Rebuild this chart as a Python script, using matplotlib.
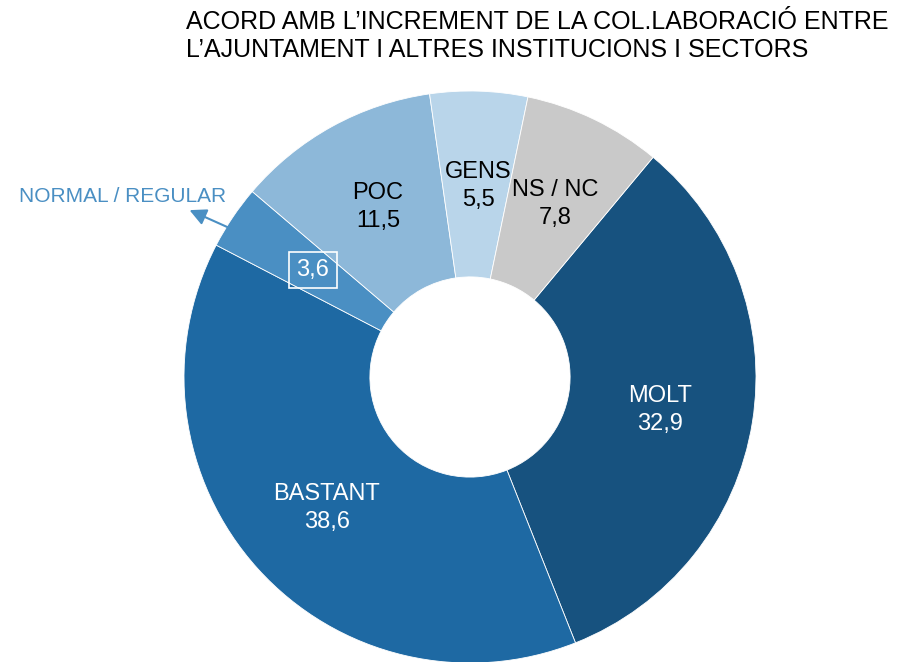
import matplotlib.pyplot as plt

# data (clockwise, starting at MOLT)
labels = ['MOLT', 'BASTANT', 'NORMAL / REGULAR', 'POC', 'GENS', 'NS / NC']
values = [32.9, 38.6, 3.6, 11.5, 5.5, 7.8]
colors = ['#17527F', '#1E69A3', '#4A8FC3', '#8DB8D9', '#B9D5EA', '#C9C9C9']
text_colors = ['white', 'white', 'white', 'black', 'black', 'black']

title = "ACORD AMB L\u2019INCREMENT DE LA COL.LABORACI\u00d3 ENTRE\nL\u2019AJUNTAMENT I ALTRES INSTITUCIONS I SECTORS"

W, H = 919, 662
cx, cy, R = 470, 377, 286

fig = plt.figure(figsize=(W / 100, H / 100), dpi=100)
ax = fig.add_axes([0, 0, 1, 1])

wedges, _ = ax.pie(values, colors=colors, startangle=50.2, counterclock=False,
                   radius=1, wedgeprops=dict(width=0.65, edgecolor='white', linewidth=0.6))

# pie resets the limits, so set them afterwards
ax.set_xlim(-cx / R, (W - cx) / R)
ax.set_ylim(-(H - cy) / R, cy / R)
ax.set_aspect('equal')
ax.axis('off')


def px(x, y):
    return (x - cx) / R, (cy - y) / R


# slice labels (pixel positions)
label_pos = [(660, 410), (327, 508), None, (378, 207), (478, 186), (555, 204)]
for lab, val, pos, tc in zip(labels, values, label_pos, text_colors):
    if pos is None:
        continue
    ax.text(*px(*pos), f"{lab}\n{str(val).replace('.', ',')}", ha='center', va='center',
            fontsize=17, color=tc, family='Liberation Sans', linespacing=1.3)

# small slice: value in a box + callout label
ax.text(*px(313, 270), '3,6', ha='center', va='center', fontsize=17, color='white',
        family='Liberation Sans',
        bbox=dict(boxstyle='square,pad=0.3', fc='none', ec='white', lw=1.2))
ax.annotate('', xy=px(187, 209), xytext=px(283, 252),
            arrowprops=dict(arrowstyle='-|>,head_length=1.0,head_width=0.5',
                            color='#4A8FC3', lw=1.5))
ax.text(*px(123, 197), 'NORMAL / REGULAR', ha='center', va='center', fontsize=15,
        color='#4A8FC3', family='Liberation Sans')

fig.text(186 / W, 1 - 10 / H, title, ha='left', va='top', fontsize=18,
         family='Liberation Sans', linespacing=1.2)

fig.savefig('out.png', dpi=100)
